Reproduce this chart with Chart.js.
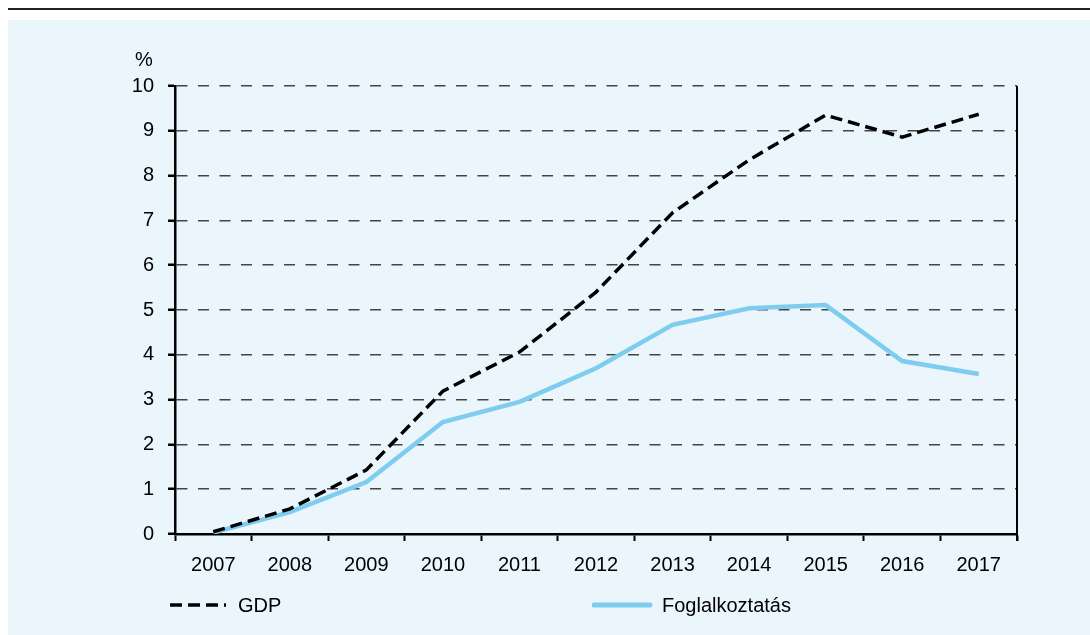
<!DOCTYPE html>
<html>
<head>
<meta charset="utf-8">
<script src="https://cdn.jsdelivr.net/npm/chart.js@4"></script>
<style>
  body { margin: 0; background: #fff; font-family: Arial, "Liberation Sans", sans-serif; }
  #wrap { position: relative; width: 1090px; height: 635px; overflow: hidden; }
  #rule { position: absolute; left: 8px; top: 8px; width: 1082px; height: 2px; background: #222; }
  #panel { position: absolute; left: 8px; top: 20px; width: 1082px; height: 615px; background: #EBF5FC; }
  #chart { position: absolute; left: 0; top: 0; }
  .lbl { position: absolute; font-size: 20px; color: #000; line-height: 24px; }
  .key { position: absolute; }
</style>
</head>
<body>
<div id="wrap">
  <div id="rule"></div>
  <div id="panel"></div>
  <canvas id="chart" width="1090" height="635"></canvas>
  <div class="lbl" style="left:135px; top:47px;">%</div>
  <svg class="key" style="left:168px; top:598px;" width="60" height="14">
    <line x1="2" y1="7" x2="58" y2="7" stroke="#000" stroke-width="3.5" stroke-dasharray="12,6"/>
  </svg>
  <div class="lbl" style="left:238px; top:593px;">GDP</div>
  <svg class="key" style="left:592px; top:598px;" width="62" height="14">
    <line x1="2" y1="7" x2="58" y2="7" stroke="#7FCDEE" stroke-width="5" stroke-linecap="round"/>
  </svg>
  <div class="lbl" style="left:662px; top:593px;">Foglalkoztatás</div>
</div>
<script>
  var years = ["2007", "2008", "2009", "2010", "2011", "2012", "2013", "2014", "2015", "2016", "2017"];
  var gdpValues = [0.05, 0.56, 1.43, 3.19, 4.06, 5.4, 7.17, 8.35, 9.35, 8.86, 9.37];
  var employmentValues = [0.03, 0.49, 1.16, 2.5, 2.95, 3.7, 4.67, 5.04, 5.11, 3.86, 3.57];

  // right frame line of the plot area
  var rightFrame = {
    id: "rightFrame",
    afterDraw: function (chart) {
      var ctx = chart.ctx, a = chart.chartArea;
      ctx.save();
      ctx.strokeStyle = "#000";
      ctx.lineWidth = 2;
      ctx.beginPath();
      ctx.moveTo(a.right, a.top);
      ctx.lineTo(a.right, a.bottom + 7);
      ctx.stroke();
      ctx.restore();
    }
  };

  new Chart("chart", {
    type: "line",
    data: {
      labels: years,
      datasets: [{
        label: "GDP",
        data: gdpValues,
        borderColor: "#000",
        borderWidth: 3.5,
        borderDash: [12, 6],
        pointRadius: 0,
        tension: 0,
        fill: false
      }, {
        label: "Foglalkoztatás",
        data: employmentValues,
        borderColor: "#7FCDEE",
        borderWidth: 4.5,
        pointRadius: 0,
        tension: 0,
        fill: false
      }]
    },
    options: {
      responsive: false,
      animation: false,
      layout: { padding: { left: 115, right: 73, top: 86, bottom: 51 } },
      plugins: { legend: { display: false }, tooltip: { enabled: false } },
      scales: {
        x: {
          offset: true,
          grid: { offset: true, drawOnChartArea: false, tickLength: 7, tickColor: "#000", tickWidth: 2 },
          border: { color: "#000", width: 2.5 },
          ticks: { color: "#000", font: { family: "Arial, 'Liberation Sans'", size: 20 }, padding: 12, maxRotation: 0 },
          afterFit: function (s) { s.height = 50; }
        },
        y: {
          min: 0,
          max: 10,
          grid: { color: "#444", lineWidth: 1.5, tickLength: 7, tickColor: "#000", tickWidth: 2.5, tickBorderDash: [] },
          border: { color: "#000", width: 2.5, dash: [11, 10.5] },
          ticks: { stepSize: 1, color: "#000", font: { family: "Arial, 'Liberation Sans'", size: 20 }, padding: 14 },
          afterFit: function (s) { s.width = 60; }
        }
      }
    },
    plugins: [rightFrame]
  });
</script>
</body>
</html>
